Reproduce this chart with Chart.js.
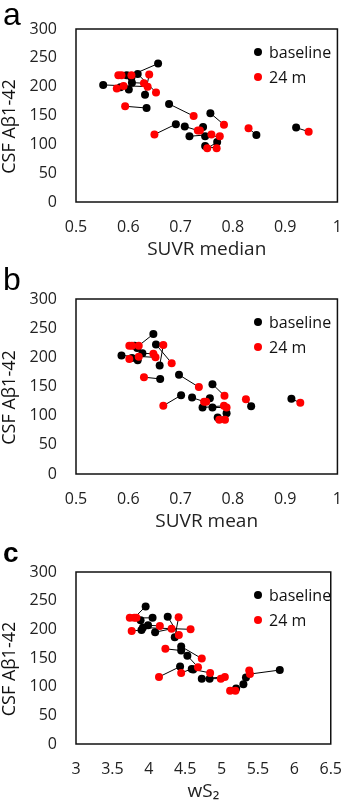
<!DOCTYPE html>
<html>
<head>
<meta charset="utf-8">
<script src="https://cdn.jsdelivr.net/npm/chart.js@4.4.1/dist/chart.umd.min.js"></script>
<style>
  html, body { margin: 0; padding: 0; background: #fff; }
  body { width: 358px; height: 804px; position: relative; overflow: hidden; }
  canvas { position: absolute; left: 0; }
</style>
</head>
<body>
<canvas id="chartA" width="358" height="280" style="top:0px"></canvas>
<canvas id="chartB" width="358" height="280" style="top:265px"></canvas>
<canvas id="chartC" width="358" height="274" style="top:530px"></canvas>
<script>
// CSF Abeta1-42 per subject, baseline and 24 months
const csfBaseline = [240, 216, 220, 222, 207, 203, 199, 195, 186, 170, 163, 154, 135, 131, 130, 114, 114, 104, 97, 116, 129];
const csf24m      = [220, 220, 220, 190, 206, 200, 197, 201, 221, 149, 166, 134, 117, 124, 124, 117, 114, 93, 93, 128, 122];

// a: SUVR median
const medianBaseline = [0.657, 0.606, 0.597, 0.618, 0.607, 0.552, 0.585, 0.601, 0.632, 0.678, 0.635, 0.757, 0.691, 0.708, 0.743, 0.717, 0.747, 0.770, 0.747, 0.845, 0.921];
const median24m      = [0.606, 0.587, 0.581, 0.653, 0.630, 0.637, 0.578, 0.591, 0.640, 0.725, 0.594, 0.783, 0.650, 0.733, 0.737, 0.759, 0.775, 0.751, 0.769, 0.830, 0.945];

// b: SUVR mean
const meanBaseline = [0.648, 0.617, 0.612, 0.653, 0.627, 0.587, 0.607, 0.618, 0.660, 0.697, 0.661, 0.761, 0.701, 0.722, 0.756, 0.742, 0.761, 0.788, 0.771, 0.835, 0.912];
const mean24m      = [0.620, 0.607, 0.602, 0.683, 0.648, 0.652, 0.602, 0.620, 0.667, 0.735, 0.630, 0.784, 0.667, 0.745, 0.749, 0.783, 0.788, 0.774, 0.785, 0.825, 0.929];

// c: wS2
const ws2Baseline = [3.957, 3.887, 4.052, 4.26, 3.99, 3.92, 3.90, 4.087, 4.357, 4.445, 4.445, 4.53, 4.43, 4.59, 4.61, 4.728, 4.836, 5.30, 5.20, 5.335, 5.80];
const ws2_24m     = [3.80, 3.739, 3.83, 4.413, 4.152, 4.574, 3.765, 4.313, 4.41, 4.728, 4.228, 4.676, 4.14, 4.445, 4.843, 5.045, 4.99, 5.19, 5.117, 5.38, 5.39];

const csfTicks = [0, 50, 100, 150, 200, 250, 300];
const suvrTicks = [0.5, 0.6, 0.7, 0.8, 0.9, 1];
const ws2Ticks = [3, 3.5, 4, 4.5, 5, 5.5, 6, 6.5];

const seriesNames = ['baseline', '24 m'];
const seriesColors = ['#000000', '#ff0000'];
const yTitle = 'CSF A\u03b21-42';

const FONT = '"Open Sans", "DejaVu Sans", sans-serif';

// box, key, y title and panel letter
const panelDecor = {
  id: 'panelDecor',
  afterDatasetsDraw(chart, args, opts) {
    const { ctx, chartArea: a } = chart;
    ctx.save();
    ctx.strokeStyle = '#111';
    ctx.lineWidth = 1.5;
    ctx.strokeRect(a.left, a.top, a.right - a.left, a.bottom - a.top);

    ctx.font = '16px ' + FONT;
    ctx.textBaseline = 'middle';
    ctx.textAlign = 'left';
    seriesNames.forEach((name, i) => {
      const y = a.top + opts.keyTop + i * 25;
      ctx.fillStyle = seriesColors[i];
      ctx.beginPath();
      ctx.arc(a.left + 182, y, 4, 0, Math.PI * 2);
      ctx.fill();
      ctx.fillStyle = '#111';
      ctx.fillText(name, a.left + 193, y + 1);
    });

    ctx.save();
    ctx.translate(10, (a.top + a.bottom) / 2 + 11);
    ctx.rotate(-Math.PI / 2);
    ctx.textAlign = 'center';
    ctx.font = '18px ' + FONT;
    ctx.fillText(yTitle, 0, 0);
    ctx.restore();

    ctx.font = opts.letterFont;
    ctx.textBaseline = 'alphabetic';
    ctx.fillStyle = '#000';
    ctx.fillText(opts.letter, 3, opts.letterY);
    ctx.restore();
  }
};

function makePanel(id, xBase, x24, xTicks, xTitle, boxTop, boxBottom, canvasH, letter, letterFont, letterY) {
  const datasets = [
    {
      label: seriesNames[1],
      data: x24.map((x, i) => ({ x: x, y: csf24m[i] })),
      backgroundColor: seriesColors[1],
      borderWidth: 0,
      pointRadius: 4,
      order: 0
    },
    {
      label: seriesNames[0],
      data: xBase.map((x, i) => ({ x: x, y: csfBaseline[i] })),
      backgroundColor: seriesColors[0],
      borderWidth: 0,
      pointRadius: 4,
      order: 1
    }
  ];
  // one short line per subject, baseline to 24 m
  xBase.forEach((x, i) => {
    datasets.push({
      data: [{ x: x, y: csfBaseline[i] }, { x: x24[i], y: csf24m[i] }],
      showLine: true,
      borderColor: '#000',
      borderWidth: 1,
      pointRadius: 0,
      order: 2
    });
  });

  const xAxisH = 60;
  return new Chart(document.getElementById(id), {
    type: 'scatter',
    data: { datasets: datasets },
    plugins: [panelDecor],
    options: {
      responsive: false,
      animation: false,
      layout: { padding: { top: boxTop, right: 14, left: 0, bottom: canvasH - boxBottom - xAxisH } },
      plugins: {
        legend: { display: false },
        tooltip: { enabled: false },
        panelDecor: { letter: letter, letterFont: letterFont, letterY: letterY, keyTop: 23 }
      },
      scales: {
        x: {
          type: 'linear',
          min: xTicks[0],
          max: xTicks[xTicks.length - 1],
          afterBuildTicks: (s) => { s.ticks = xTicks.map(v => ({ value: v })); },
          afterFit: (s) => { s.height = xAxisH; },
          grid: { display: false, drawTicks: false },
          border: { display: false },
          ticks: {
            padding: 16,
            color: '#222',
            font: { family: FONT, size: 16 },
            maxRotation: 0,
            callback: (v) => String(+Number(v).toFixed(2))
          },
          title: {
            display: true,
            text: xTitle,
            color: '#222',
            font: { family: FONT, size: 19 },
            padding: { top: 0, bottom: 1 }
          }
        },
        y: {
          type: 'linear',
          min: csfTicks[0],
          max: csfTicks[csfTicks.length - 1],
          afterBuildTicks: (s) => { s.ticks = csfTicks.map(v => ({ value: v })); },
          afterFit: (s) => { s.width = 76; },
          grid: { display: false, drawTicks: false },
          border: { display: false },
          ticks: {
            padding: 19,
            color: '#222',
            font: { family: FONT, size: 16 }
          }
        }
      }
    }
  });
}

makePanel('chartA', medianBaseline, median24m, suvrTicks, 'SUVR median', 29, 202, 280, 'a', '32px "Liberation Sans", Arial, sans-serif', 25);
makePanel('chartB', meanBaseline, mean24m, suvrTicks, 'SUVR mean', 34, 209, 280, 'b', '32px "Liberation Sans", Arial, sans-serif', 25);
makePanel('chartC', ws2Baseline, ws2_24m, ws2Ticks, 'wS\u2082', 42, 214, 274, 'c', 'bold 28px "Liberation Sans", Arial, sans-serif', 32);
</script>
</body>
</html>
